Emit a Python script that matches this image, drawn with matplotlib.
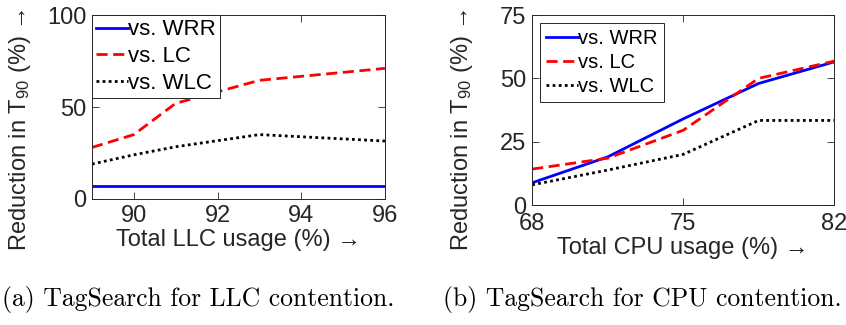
import matplotlib.pyplot as plt

plt.rcParams['font.family'] = ['Liberation Sans', 'DejaVu Sans']
plt.rcParams['mathtext.fontset'] = 'custom'
plt.rcParams['mathtext.rm'] = 'Liberation Sans'
plt.rcParams['mathtext.it'] = 'Liberation Sans'

# (a) LLC contention
llc_x = [89, 90, 91, 93, 96]
llc_wrr = [7.2, 7.2, 7.2, 7.2, 7.2]
llc_lc = [28, 35, 52, 64.5, 71]
llc_wlc = [19, 24, 28.4, 35, 31.5]

# (b) CPU contention
cpu_x = [68, 71.5, 75, 78.5, 82]
cpu_wrr = [8.8, 19, 34, 48, 56.5]
cpu_lc = [14.2, 18.5, 29.5, 50, 56.8]
cpu_wlc = [8, 13.8, 20, 33.4, 33.4]

labels = ['vs. WRR', 'vs. LC', 'vs. WLC']
fs = 17

fig = plt.figure(figsize=(8.46, 3.25), dpi=100)
ax1 = fig.add_axes([0.1087, 0.3877, 0.3463, 0.5661])
ax2 = fig.add_axes([0.629, 0.369, 0.357, 0.5848])


def style(ax):
    ax.tick_params(direction='in', top=True, right=True, labelsize=fs, length=5,
                   width=0.6, pad=4, colors='#262626')
    for s in ax.spines.values():
        s.set_linewidth(0.7)
        s.set_color('#262626')


def draw(ax, x, wrr, lc, wlc):
    ax.plot(x, wrr, color='#0000ff', lw=2, label=labels[0])
    ax.plot(x, lc, color='#ff0000', lw=2, ls=(0, (4, 2)), label=labels[1])
    ax.plot(x, wlc, color='black', lw=2, ls=(0, (1, 1.2)), label=labels[2])


draw(ax1, llc_x, llc_wrr, llc_lc, llc_wlc)
ax1.set_xlim(89, 96)
ax1.set_ylim(0, 100)
ax1.set_xticks([90, 92, 94, 96])
ax1.set_yticks([0, 50, 100])
style(ax1)
ax1.set_xlabel('Total LLC usage (%) →', fontsize=fs, labelpad=2, color='#262626')
ax1.set_ylabel('Reduction in T$_{90}$ (%) →', fontsize=fs, color='#262626')
ax1.yaxis.set_label_coords(-0.20, 0.375)
leg1 = ax1.legend(loc='upper left', fontsize=16, handlelength=1.4, handletextpad=0.0,
                  borderpad=0.2, labelspacing=0.25, borderaxespad=0.0, fancybox=False,
                  edgecolor='#262626', framealpha=1)
leg1.get_frame().set_linewidth(0.7)

draw(ax2, cpu_x, cpu_wrr, cpu_lc, cpu_wlc)
ax2.set_xlim(68, 82)
ax2.set_ylim(0, 75)
ax2.set_xticks([68, 75, 82])
ax2.set_yticks([0, 25, 50, 75])
style(ax2)
ax2.tick_params(axis='x', pad=6)
ax2.set_xlabel('Total CPU usage (%) →', fontsize=fs, labelpad=1, color='#262626')
ax2.set_ylabel('Reduction in T$_{90}$ (%) →', fontsize=fs, color='#262626')
ax2.yaxis.set_label_coords(-0.189, 0.395)
leg2 = ax2.legend(loc='upper left', fontsize=14.5, handlelength=1.6, handletextpad=0.0,
                  borderpad=0.3, labelspacing=0.25, borderaxespad=0.4, fancybox=False,
                  edgecolor='#262626', framealpha=1)
leg2.get_frame().set_linewidth(0.7)

fig.text(0.234, 0.077, '(a) TagSearch for LLC contention.', ha='center', va='center',
         fontsize=18.5, family='cmr10')
fig.text(0.759, 0.077, '(b) TagSearch for CPU contention.', ha='center', va='center',
         fontsize=18.5, family='cmr10')

fig.savefig('out.png', dpi=100)
